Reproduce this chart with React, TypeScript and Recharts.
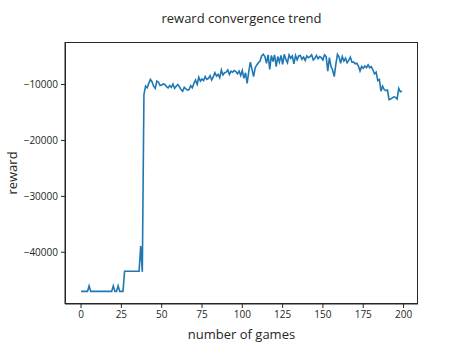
import { Line, LineChart, XAxis, YAxis } from 'recharts';

// reward per game (games 0..199)
const rewards: number[] = [
  -47000, -47000, -47000, -47000, -47000, -46000, -47000, -47000, -47000, -47000,
  -47000, -47000, -47000, -47000, -47000, -47000, -47000, -47000, -47000, -47000,
  -46000, -47000, -47000, -46000, -47000, -47000, -47000, -43400, -43400, -43400,
  -43400, -43400, -43400, -43400, -43400, -43400, -43400, -38900, -43500, -11800,
  -10300, -10600, -9800, -9100, -9500, -10300, -10700, -9400, -9600, -10200,
  -10100, -9900, -10000, -10400, -10600, -10200, -10500, -9900, -10700, -10300,
  -10000, -10400, -10900, -11200, -10500, -10800, -11000, -10900, -10200, -10600,
  -9800, -9200, -10000, -8700, -9400, -9000, -9300, -8600, -9100, -8900,
  -8400, -9200, -8600, -7900, -8500, -8200, -8800, -7400, -8300, -7900,
  -7800, -7400, -8200, -7600, -7800, -7500, -7700, -8100, -7600, -8400,
  -7500, -8900, -7900, -9800, -7700, -6000, -7300, -8600, -7000, -6500,
  -6100, -5800, -4900, -4600, -5000, -6200, -4700, -7300, -4800, -5900,
  -4700, -6800, -5000, -6000, -4800, -6400, -4600, -5500, -6100, -4700,
  -5300, -4900, -6300, -4800, -5600, -4900, -4800, -5500, -5100, -5700,
  -4900, -5200, -5000, -4700, -5600, -5300, -4800, -5400, -5000, -5200,
  -5600, -4700, -5000, -7600, -5200, -6800, -7400, -8600, -6400, -4600,
  -5100, -6200, -5000, -5800, -5300, -6100, -5700, -5100, -6000, -6000,
  -6300, -6200, -6700, -7600, -6800, -7100, -6700, -7000, -6500, -7000,
  -6800, -7400, -8100, -7800, -9300, -9100, -11200, -10300, -10900, -11100,
  -11000, -12700, -12600, -12400, -12200, -12300, -12600, -10700, -11300, -11200,
];

const xTicks = [0, 25, 50, 75, 100, 125, 150, 175, 200];
const yTicks = [-40000, -30000, -20000, -10000];

const data = rewards.map((r, i) => ({ game: i, reward: r }));

const ink = '#262626';
const font = '"Open Sans", "DejaVu Sans", sans-serif';
const fmtY = (v: number) => (v < 0 ? '\u2212' + Math.abs(v) : String(v));

export default function App() {
  return (
    <div style={{ position: 'absolute', left: 0, top: 0, width: 471, height: 355, background: '#fff', fontFamily: font }}>
      <LineChart width={471} height={355} data={data} margin={{ top: 42, right: 53, bottom: 0, left: 0 }}>
        <XAxis
          dataKey="game"
          type="number"
          domain={[-9.95, 208.95]}
          ticks={xTicks}
          allowDataOverflow
          height={51}
          stroke={ink}
          tick={{ fontSize: 10, fill: ink, fontFamily: font }}
          tickSize={4}
          tickMargin={3}
        />
        <YAxis
          type="number"
          domain={[-49250, -2400]}
          ticks={yTicks}
          allowDataOverflow
          width={65}
          stroke={ink}
          tickFormatter={fmtY}
          tick={{ fontSize: 10, fill: ink, fontFamily: font }}
          tickSize={4}
          tickMargin={3}
        />
        <Line
          type="linear"
          dataKey="reward"
          stroke="#1f77b4"
          strokeWidth={1.6}
          dot={false}
          isAnimationActive={false}
        />
      </LineChart>
      {/* axes frame (matplotlib-style spines) */}
      <div
        style={{
          position: 'absolute',
          left: 65,
          top: 42,
          width: 353,
          height: 262,
          boxSizing: 'border-box',
          border: `1px solid ${ink}`,
          pointerEvents: 'none',
        }}
      />
      <div style={{ position: 'absolute', top: 9, left: 65, width: 353, textAlign: 'center', fontSize: 13, color: ink }}>
        reward convergence trend
      </div>
      <div style={{ position: 'absolute', top: 325, left: 65, width: 353, textAlign: 'center', fontSize: 13, color: ink }}>
        number of games
      </div>
      <div
        style={{
          position: 'absolute',
          left: 12,
          top: 173,
          transform: 'translate(-50%, -50%) rotate(-90deg)',
          fontSize: 13,
          color: ink,
          whiteSpace: 'nowrap',
        }}
      >
        reward
      </div>
    </div>
  );
}
